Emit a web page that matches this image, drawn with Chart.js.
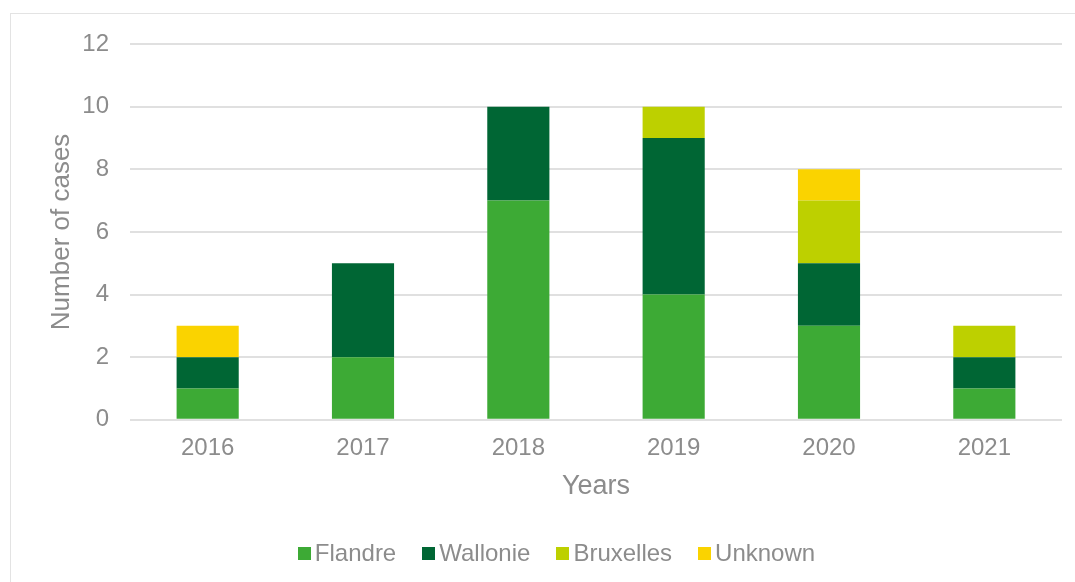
<!DOCTYPE html>
<html>
<head>
<meta charset="utf-8">
<script src="https://cdn.jsdelivr.net/npm/chart.js@4/dist/chart.umd.min.js"></script>
<style>
  html, body { margin: 0; padding: 0; background: #fff; overflow: hidden; }
  #frame { position: absolute; left: 10px; top: 13px; width: 1100px; height: 620px; border: 1px solid #e3e3e3; box-sizing: border-box; }
  #wrap { position: absolute; left: 0; top: 0; width: 1075px; height: 582px; }
  #legend { position: absolute; left: 19px; width: 1075px; top: 538px; display: flex; justify-content: center; gap: 26px; font-family: 'Liberation Sans', Arial, sans-serif; font-size: 24px; line-height: 30px; color: #8c8c8c; white-space: nowrap; }
  #legend .item { display: flex; align-items: center; }
  #legend .box { width: 13px; height: 13px; margin-right: 4px; margin-top: 1px; }
</style>
</head>
<body>
<div id="frame"></div>
<div id="wrap"><canvas id="chart" width="1075" height="582"></canvas></div>
<div id="legend"></div>
<script>
const years = ['2016', '2017', '2018', '2019', '2020', '2021'];
const flandre = [1, 2, 7, 4, 3, 1];
const wallonie = [1, 3, 3, 5, 2, 1];
const bruxelles = [0, 0, 0, 1, 2, 1];
const unknown = [1, 0, 0, 0, 1, 0];

const grey = '#8c8c8c';
const font = 'Liberation Sans, Arial, sans-serif';

function ds(label, data, color) {
  return {
    label, data,
    backgroundColor: color,
    borderWidth: 0,
    barPercentage: 0.4,
    categoryPercentage: 1
  };
}

const chart = new Chart(document.getElementById('chart').getContext('2d'), {
  type: 'bar',
  data: {
    labels: years,
    datasets: [
      ds('Flandre', flandre, '#3daa35'),
      ds('Wallonie', wallonie, '#006634'),
      ds('Bruxelles', bruxelles, '#bdd000'),
      ds('Unknown', unknown, '#fad300')
    ]
  },
  options: {
    responsive: false,
    animation: false,
    layout: { padding: { left: 46, right: 13, top: 44, bottom: 79 } },
    plugins: {
      tooltip: { enabled: false },
      legend: { display: false }
    },
    scales: {
      x: {
        stacked: true,
        grid: { display: false },
        border: { display: false },
        ticks: { color: grey, font: { family: font, size: 24 }, padding: 6 },
        title: { display: true, text: 'Years', color: grey, font: { family: font, size: 27 }, padding: { top: 2, bottom: 0 } }
      },
      y: {
        stacked: true,
        min: 0, max: 12,
        afterFit: s => { s.width = 84; },
        ticks: { stepSize: 2, color: grey, font: { family: font, size: 24 }, padding: 21 },
        grid: { color: '#e0e0e0', lineWidth: 2, drawTicks: false },
        border: { display: false },
        title: { display: true, text: 'Number of cases', color: grey, font: { family: font, size: 26 }, padding: 0 }
      }
    }
  }
});

// legend as html, built from the datasets
const legend = document.getElementById('legend');
chart.data.datasets.forEach(d => {
  const item = document.createElement('div');
  item.className = 'item';
  item.innerHTML = `<div class="box" style="background:${d.backgroundColor}"></div><span>${d.label}</span>`;
  legend.appendChild(item);
});
</script>
</body>
</html>
